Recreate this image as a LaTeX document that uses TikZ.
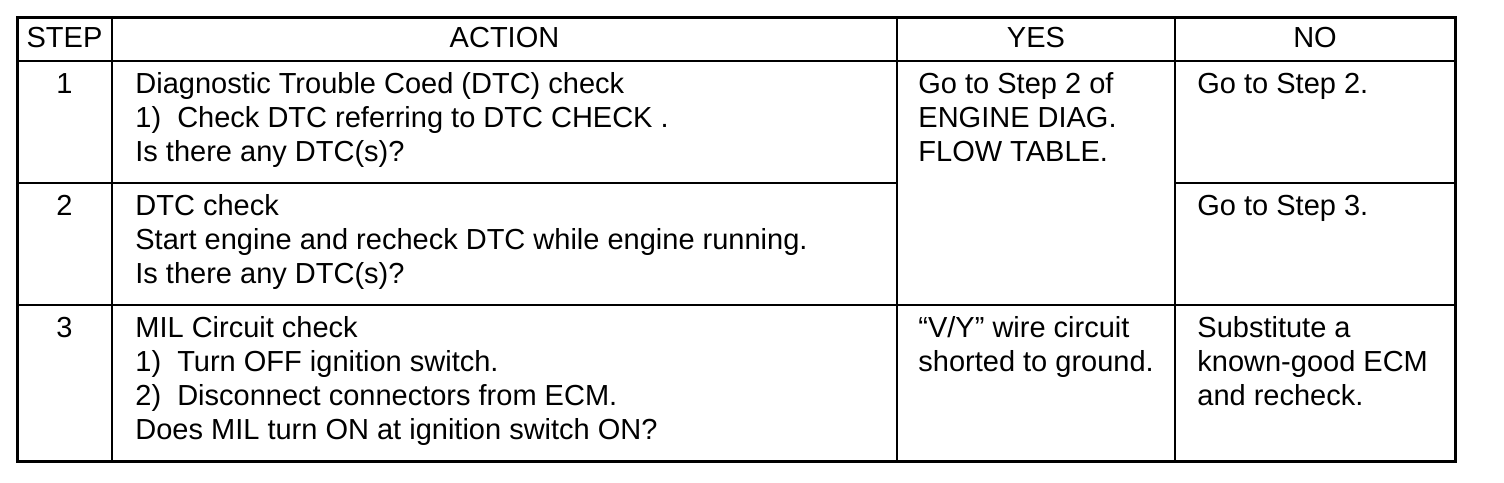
\documentclass[tikz,border=0pt]{standalone}
\usepackage{fontspec}
\setmainfont{Liberation Sans}
\newcommand\celllines[1]{\begin{tabular}[t]{@{}l@{}}#1\end{tabular}}
\begin{document}
\begin{tikzpicture}[x=0.5pt,y=-0.5pt,
  outerline/.style={line width=1.5pt},
  innerline/.style={line width=1pt},
  every node/.style={font=\fontsize{14.5}{17}\selectfont},
  hdr/.style={anchor=base,inner sep=0pt},
  num/.style={anchor=base,inner sep=0pt},
  cell/.style={anchor=base west,inner sep=0pt}]
\useasboundingbox (0,0) rectangle (1504,482);
% grid
\draw[innerline] (17,61) -- (1455,61);
\draw[innerline] (17,183) -- (897,183);
\draw[innerline] (1175,183) -- (1455,183);
\draw[innerline] (17,305) -- (1455,305);
\draw[innerline] (112,17) -- (112,461);
\draw[innerline] (897,17) -- (897,461);
\draw[innerline] (1175,17) -- (1175,461);
\draw[outerline] (17,17) rectangle (1455,461);
% header
\node[hdr] (hstep) at (64.5,47) {STEP};
\node[hdr] (haction) at (504.5,47) {ACTION};
\node[hdr] (hyes) at (1036,47) {YES};
\node[hdr] (hno) at (1315,47) {NO};
% row 1
\node[num] (n1) at (64.5,93) {1};
\node[cell] (a1) at (135,93) {\celllines{Diagnostic Trouble Coed (DTC) check\\1)\ \ Check DTC referring to DTC CHECK .\\Is there any DTC(s)?}};
\node[cell] (y1) at (918,93) {\celllines{Go to Step 2 of\\ENGINE DIAG.\\FLOW TABLE.}};
\node[cell] (o1) at (1197,93) {Go to Step 2.};
% row 2
\node[num] (n2) at (64.5,215) {2};
\node[cell] (a2) at (135,215) {\celllines{DTC check\\Start engine and recheck DTC while engine running.\\Is there any DTC(s)?}};
\node[cell] (o2) at (1197,215) {Go to Step 3.};
% row 3
\node[num] (n3) at (64.5,337) {3};
\node[cell] (a3) at (135,337) {\celllines{MIL Circuit check\\1)\ \ Turn OFF ignition switch.\\2)\ \ Disconnect connectors from ECM.\\Does MIL turn ON at ignition switch ON?}};
\node[cell] (y3) at (918,337) {\celllines{“V/Y” wire circuit\\shorted to ground.}};
\node[cell] (o3) at (1197,337) {\celllines{Substitute a\\known-good ECM\\and recheck.}};
\end{tikzpicture}
\end{document}
